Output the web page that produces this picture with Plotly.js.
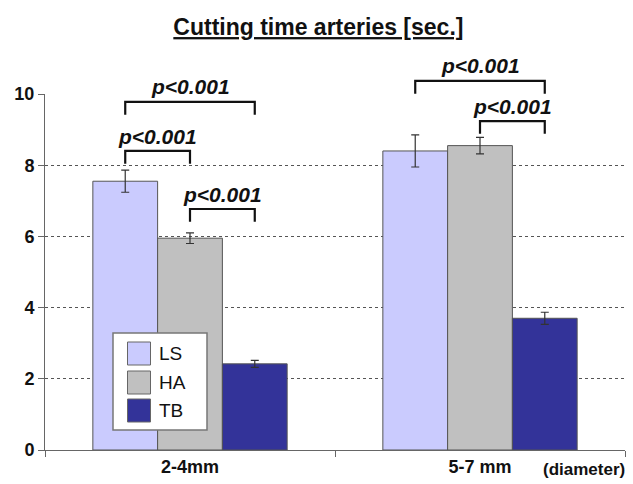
<!DOCTYPE html>
<html>
<head>
<meta charset="utf-8">
<script src="https://cdn.plot.ly/plotly-3.0.1.min.js"></script>
<style>html,body{margin:0;padding:0;background:#fff;}#chart{width:633px;height:484px;}</style>
</head>
<body>
<div id="chart"></div>
<script>
// ---- data ----
const categories = ['2-4mm', '5-7 mm'];
const seriesNames = ['LS', 'HA', 'TB'];
const LS = [7.55, 8.40];
const LS_err = [0.31, 0.45];
const HA = [5.95, 8.55];
const HA_err = [0.15, 0.23];
const TB = [2.42, 3.70];
const TB_err = [0.10, 0.17];
const seriesColors = ['#CACBFE', '#C0C0C0', '#333399'];
// significance brackets: category index, series index from/to, bracket line height (y units), label
const bracketCat = [0, 0, 0, 1, 1];
const bracketFrom = [0, 0, 1, 0, 1];
const bracketTo = [2, 1, 2, 2, 2];
const bracketY = [9.78, 8.40, 6.77, 10.37, 9.24];
const bracketLabel = ['p<0.001', 'p<0.001', 'p<0.001', 'p<0.001', 'p<0.001'];

// ---- layout constants ----
const W = 633, H = 484;
const M = {l: 45, r: 8, t: 94, b: 34};
const plotW = W - M.l - M.r, plotH = H - M.t - M.b;
const yMax = 10;
const bargap = 0.33;
const FONT = 'Arial, "Liberation Sans", sans-serif';

const values = [LS, HA, TB];
const errs = [LS_err, HA_err, TB_err];
const traces = seriesNames.map((n, i) => ({
  type: 'bar', name: n, x: categories, y: values[i],
  marker: {color: seriesColors[i], line: {color: '#555', width: 1}},
  error_y: {type: 'data', array: errs[i], visible: true, color: '#333', thickness: 1.2, width: 4},
  showlegend: false
}));

// helpers: category-data x -> paper, value -> paper
const nCat = categories.length;
const barW = (1 - bargap) / seriesNames.length;
function barCenter(cat, s) { return cat + (s - (seriesNames.length - 1) / 2) * barW; }
function xp(xd) { return (xd + 0.5) / nCat; }
function yp(v) { return v / yMax; }
function pxX(p) { return (p - M.l) / plotW; }
function pxY(p) { return (H - M.b - p) / plotH; }

const shapes = [];
const annotations = [];
const legLen = 0.36; // bracket leg length (y units)
for (let k = 0; k < bracketCat.length; k++) {
  const x0 = xp(barCenter(bracketCat[k], bracketFrom[k]));
  const x1 = xp(barCenter(bracketCat[k], bracketTo[k]));
  const yTop = yp(bracketY[k]);
  const yLeg = yp(bracketY[k] - legLen);
  shapes.push({type: 'path', xref: 'paper', yref: 'paper',
    path: `M${x0},${yLeg} L${x0},${yTop} L${x1},${yTop} L${x1},${yLeg}`,
    line: {color: '#111', width: 2.2}});
  annotations.push({xref: 'paper', yref: 'paper', x: (x0 + x1) / 2, y: yp(bracketY[k] + 0.04),
    xanchor: 'center', yanchor: 'bottom', showarrow: false,
    text: '<b><i>' + bracketLabel[k] + '</i></b>',
    font: {family: FONT, size: 21, color: '#111'}});
}

// custom legend box
shapes.push({type: 'rect', xref: 'paper', yref: 'paper',
  x0: pxX(113), x1: pxX(207), y0: pxY(430), y1: pxY(333),
  fillcolor: '#fff', line: {color: '#777', width: 1.5}});
const legTop = [342, 371, 399];
seriesNames.forEach((n, i) => {
  shapes.push({type: 'rect', xref: 'paper', yref: 'paper',
    x0: pxX(127.5), x1: pxX(150.5), y0: pxY(legTop[i] + 23), y1: pxY(legTop[i]),
    fillcolor: seriesColors[i], line: {color: '#666', width: 1}});
  annotations.push({xref: 'paper', yref: 'paper', x: pxX(157), y: pxY(legTop[i] + 11.5),
    xanchor: 'left', yanchor: 'middle', showarrow: false, text: n,
    font: {family: FONT, size: 19, color: '#111'}});
});

annotations.push({xref: 'paper', yref: 'paper', x: pxX(627), y: pxY(469),
  xanchor: 'right', yanchor: 'middle', showarrow: false, text: '<b>(diameter)</b>',
  font: {family: FONT, size: 17, color: '#111'}});

const layout = {
  width: W, height: H,
  margin: M,
  paper_bgcolor: '#fff', plot_bgcolor: '#fff',
  barmode: 'group', bargap: bargap, bargroupgap: 0,
  showlegend: false,
  title: {text: '<b><u>Cutting time arteries [sec.]</u></b>', x: 0.503, xanchor: 'center',
    y: 1 - 27 / H, yanchor: 'middle', yref: 'container',
    font: {family: FONT, size: 23, color: '#111'}},
  xaxis: {type: 'category', range: [-0.5, nCat - 0.5], showline: true, linecolor: '#666', linewidth: 1,
    ticks: 'outside', tickson: 'boundaries', ticklen: 6, tickcolor: '#666',
    showgrid: false, tickfont: {family: FONT, size: 18, color: '#111'},
    tickprefix: '<b>', ticksuffix: '</b>'},
  yaxis: {range: [0, yMax], dtick: 2, tick0: 0, showline: true, linecolor: '#666', linewidth: 1,
    ticks: 'outside', ticklen: 6, tickcolor: '#666', zeroline: false,
    showgrid: true, gridcolor: '#555', griddash: 'dot', gridwidth: 1,
    tickfont: {family: FONT, size: 18, color: '#111'}, tickprefix: '<b>', ticksuffix: '</b>'},
  shapes: shapes,
  annotations: annotations
};

Plotly.newPlot('chart', traces, layout, {displayModeBar: false, staticPlot: true});
</script>
</body>
</html>
